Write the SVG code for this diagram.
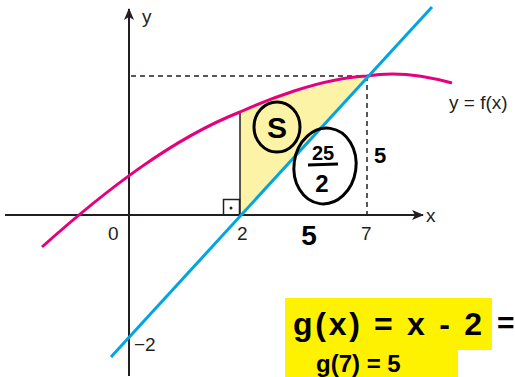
<svg xmlns="http://www.w3.org/2000/svg" width="515" height="377" viewBox="0 0 515 377">
<defs>
<marker id="arr" viewBox="0 0 12 10" refX="11" refY="5" markerWidth="12" markerHeight="10" markerUnits="userSpaceOnUse" orient="auto">
<path d="M0,0 L12,5 L0,10 L3,5 Z" fill="#231f20"/>
</marker>
<style>
.ax{stroke:#231f20;stroke-width:2;fill:none}
.dash{stroke:#231f20;stroke-width:1.5;stroke-dasharray:5 4;fill:none}
.lbl{font-family:"Liberation Sans",Arial,sans-serif;font-size:19px;fill:#231f20}
.hw{font-family:"Liberation Sans",Arial,sans-serif;font-weight:bold;fill:#000}
.ink{stroke:#000;stroke-width:3;fill:none}
</style>
</defs>
<rect width="515" height="377" fill="#fff"/>
<g id="region">
<path d="M240,215 L240,112 C262,102 300,88 367,76 Z" fill="#fdf3a6"/>
</g>
<g id="axes">
<line class="ax" x1="129" y1="376" x2="129" y2="9" marker-end="url(#arr)"/>
<line class="ax" x1="5" y1="215" x2="423" y2="215" marker-end="url(#arr)"/>
<text class="lbl" x="142" y="23">y</text>
<text class="lbl" x="426" y="222">x</text>
</g>
<g id="guides">
<line class="dash" x1="131" y1="76" x2="367" y2="76"/>
<line class="dash" x1="367" y1="76" x2="367" y2="214"/>
<line x1="240" y1="112" x2="240" y2="215" stroke="#231f20" stroke-width="1.5"/>
<rect x="223.5" y="199.5" width="16" height="15.5" fill="none" stroke="#231f20" stroke-width="1.5"/>
<circle cx="231" cy="208" r="1.5" fill="#231f20"/>
</g>
<g id="curve-f">
<path d="M42,247 C108,188 174,138 240,112 C262,102 320,78 367,76 C390,72 420,74 452,83" fill="none" stroke="#e5007e" stroke-width="3"/>
</g>
<g id="line-g">
<line x1="111" y1="357" x2="432" y2="7" stroke="#00a5e3" stroke-width="3"/>
</g>
<g id="labels">
<text class="lbl" x="108" y="240">0</text>
<text class="lbl" x="237" y="240">2</text>
<text class="lbl" x="361" y="240">7</text>
<text class="lbl" x="134" y="351">−2</text>
<text class="lbl" x="449" y="109" font-size="18">y = f(x)</text>
</g>
<g id="notes">
<ellipse class="ink" cx="277" cy="127" rx="23" ry="25"/>
<text class="hw" x="277" y="138" font-size="30" text-anchor="middle">S</text>
<ellipse class="ink" cx="325" cy="166" rx="31" ry="38" transform="rotate(8 325 166)"/>
<text class="hw" x="323" y="160" font-size="20" text-anchor="middle">25</text>
<line x1="308" y1="165" x2="338" y2="164" stroke="#000" stroke-width="3"/>
<text class="hw" x="322" y="192" font-size="24" text-anchor="middle">2</text>
<text class="hw" x="380" y="163" font-size="22" text-anchor="middle">5</text>
<text class="hw" x="309" y="245" font-size="28" text-anchor="middle">5</text>
</g>
<g id="highlight">
<rect x="285" y="298" width="207" height="52" fill="#fff200"/>
<rect x="285" y="345" width="173" height="32" fill="#fff200"/>
<text class="hw" x="293" y="335" font-size="32" textLength="189" lengthAdjust="spacing">g(x) = x - 2</text>
<text class="hw" x="497" y="333" font-size="30">=</text>
<text class="hw" x="316" y="372" font-size="24">g(7) = 5</text>
</g>
</svg>
